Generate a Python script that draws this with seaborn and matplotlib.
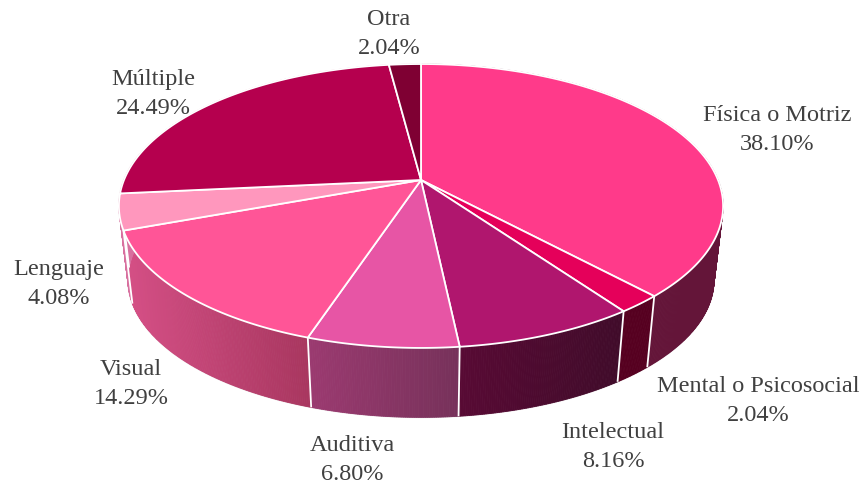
import numpy as np
import pandas as pd
import seaborn as sns
import matplotlib
matplotlib.use("Agg")
import matplotlib.pyplot as plt

# ---- data -------------------------------------------------------------
categories = ["Física o Motriz", "Mental o Psicosocial", "Intelectual", "Auditiva",
              "Visual", "Lenguaje", "Múltiple", "Otra"]
values = [38.10, 2.04, 8.16, 6.80, 14.29, 4.08, 24.49, 2.04]
top_colors = ["#FF3A8A", "#E5005A", "#B0166E", "#E755A5",
              "#FF5597", "#FF97BD", "#B5004E", "#7F0033"]
side_left = ["#641539", "#560020", "#580A34", "#9B3A70",
             "#D44F85", "#D8709F", "#D8709F", "#D8709F"]
side_right = ["#641539", "#560020", "#400B2A", "#76315A",
              "#A8365F", "#D8709F", "#D8709F", "#D8709F"]

# ---- layout -----------------------------------------------------------
label_xy = [(777, 130), (758, 401), (613, 447), (352, 460),
            (131, 384), (59, 284), (153, 94), (389, 34)]
HUB_X, HUB_Y = 421, 181
A, B, K = 297.0, 137.2, 0.183   # perspective projection of the pie's disc
SHRINK, DEPTH = 0.97, 74.5      # lower rim relative to upper rim
TEXT = "#404040"

sns.set_theme(style="white")
plt.rcParams["font.family"] = ["Liberation Serif", "DejaVu Serif"]

df = pd.DataFrame({"cat": categories, "val": values, "top": top_colors,
                   "sl": side_left, "sr": side_right})
df["start"] = df["val"].cumsum().shift(fill_value=0) / df["val"].sum() * 2 * np.pi
df["end"] = df["val"].cumsum() / df["val"].sum() * 2 * np.pi


def project(theta, r=1.0):
    """Clockwise angle from twelve o'clock to picture offsets from the hub."""
    u, v = r * np.sin(theta), r * np.cos(theta)
    d = 1 + K * v
    return A * u / d, B * v / d


def upper(theta):
    x, y = project(theta)
    return HUB_X + x, HUB_Y - y


def lower(theta):
    x, y = project(theta)
    return HUB_X + SHRINK * x, HUB_Y - SHRINK * y + DEPTH


fig, ax = plt.subplots(figsize=(8.63, 4.85), dpi=100)
fig.subplots_adjust(0, 0, 1, 1)
ax.set_xlim(0, 863)
ax.set_ylim(485, 0)
ax.axis("off")

# side wall, silhouette first
theta_all = np.linspace(np.pi / 2 - 0.2, 1.5 * np.pi + 0.2, 400)
xa, ya = upper(theta_all)
xb, yb = lower(theta_all)
ax.fill(np.r_[xa, xb[::-1]], np.r_[ya, yb[::-1]], fc="#F0EAED", ec="#EBE5E8", lw=1.2, zorder=1)

# side wall, gradient strips per slice
for _, row in df.iterrows():
    n = max(8, int(160 * (row.end - row.start)))
    th = np.linspace(row.start, row.end, n + 1)
    xu, yu = upper(th)
    xl, yl = lower(th)
    ramp = sns.blend_palette([row.sl, row.sr], 64)
    lo, hi = xu.min(), xu.max()
    for i in range(n):
        f = ((xu[i] + xu[i + 1]) / 2 - lo) / max(hi - lo, 1e-6)
        c = ramp[int(np.clip(f * 63, 0, 63))]
        ax.fill([xu[i], xu[i + 1], xl[i + 1], xl[i]], [yu[i], yu[i + 1], yl[i + 1], yl[i]],
                fc=c, ec=c, lw=0.6, zorder=2)

# white dividers on the wall, only where the wall faces the viewer
for b in df["start"]:
    if np.pi / 2 < (b % (2 * np.pi)) < 1.5 * np.pi:
        xu, yu = upper(b)
        xl, yl = lower(b)
        ax.plot([xu, xl], [yu, yl], color="white", lw=1.3, zorder=3, solid_capstyle="butt")

# top face
for _, row in df.iterrows():
    th = np.linspace(row.start, row.end, 200)
    xu, yu = upper(th)
    ax.fill(np.r_[HUB_X, xu], np.r_[HUB_Y, yu], fc=row.top, ec="white", lw=1.3,
            joinstyle="round", zorder=4)

# labels
for (x, y), cat, val in zip(label_xy, categories, values):
    ax.text(x, y, f"{cat}\n{val:.2f}%", ha="center", va="center", color=TEXT,
            fontsize=17.5, linespacing=1.5, zorder=5)

fig.savefig("out.png", dpi=100)
